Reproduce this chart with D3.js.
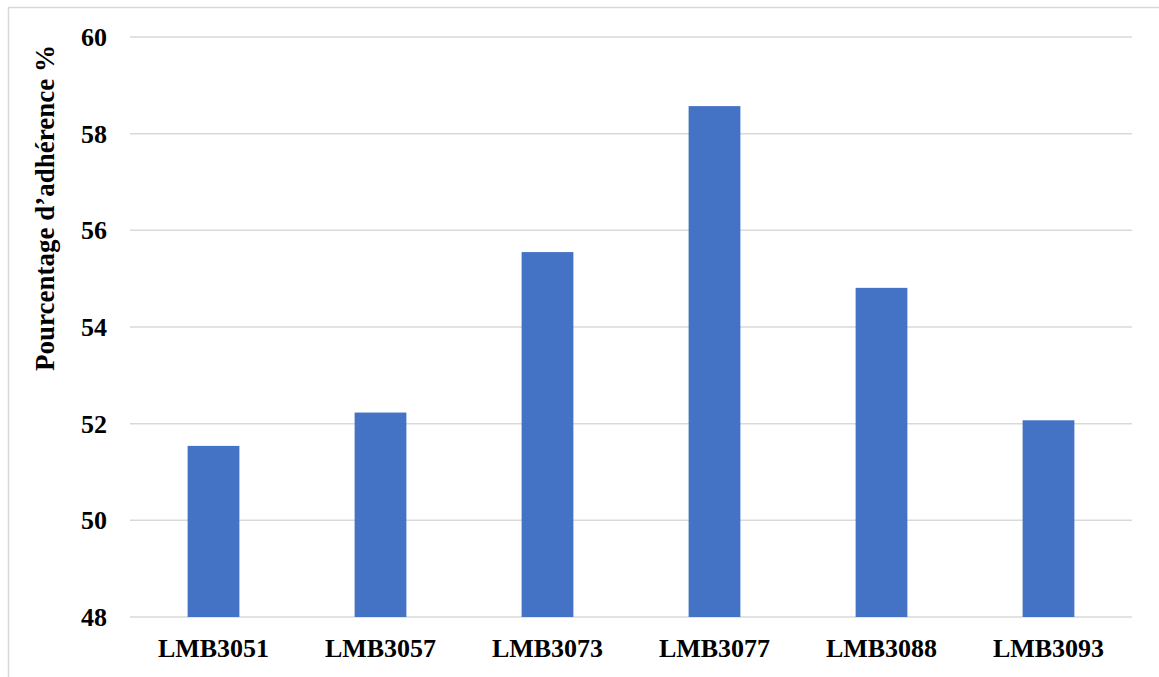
<!DOCTYPE html>
<html><head><meta charset="utf-8">
<script src="https://cdn.jsdelivr.net/npm/d3@7"></script>
<style>body{margin:0;background:#fff}svg{display:block}</style>
</head><body>
<script>
const categories = ["LMB3051","LMB3057","LMB3073","LMB3077","LMB3088","LMB3093"];
const values = [51.54, 52.23, 55.55, 58.57, 54.81, 52.07];
const yTicks = [48, 50, 52, 54, 56, 58, 60];
const yTitle = "Pourcentage d\u2019adhérence %";

const W = 1159, H = 677;
const svg = d3.select("body").append("svg").attr("width", W).attr("height", H);
svg.append("rect").attr("x", 8.5).attr("y", 7.5).attr("width", W + 10).attr("height", H + 10)
  .attr("fill", "#fff").attr("stroke", "#d9d9d9").attr("stroke-width", 1.5);

const mLeft = 130, mRight = 1132, mTop = 37, mBottom = 617;
const x = d3.scaleBand().domain(categories).range([mLeft, mRight]).padding(0);
const y = d3.scaleLinear().domain([48, 60]).range([mBottom, mTop]);
const font = "'Liberation Serif','Times New Roman',serif";

svg.append("g").selectAll("line").data(yTicks).join("line")
  .attr("x1", mLeft).attr("x2", mRight)
  .attr("y1", d => y(d)).attr("y2", d => y(d))
  .attr("stroke", "#d9d9d9").attr("stroke-width", 1.5);

const barW = x.bandwidth() * 0.31;
svg.append("g").selectAll("rect").data(values).join("rect")
  .attr("x", (d, i) => x(categories[i]) + (x.bandwidth() - barW) / 2)
  .attr("width", barW)
  .attr("y", d => y(d))
  .attr("height", d => y(48) - y(d))
  .attr("fill", "#4472c4");

svg.append("g").selectAll("text").data(yTicks).join("text")
  .attr("x", 107).attr("y", d => y(d)).attr("dy", "0.35em")
  .attr("text-anchor", "end")
  .style("font-family", font).style("font-weight", "bold").style("font-size", "26px")
  .text(d => d);

svg.append("g").selectAll("text").data(categories).join("text")
  .attr("x", d => x(d) + x.bandwidth() / 2).attr("y", 648).attr("dy", "0.35em")
  .attr("text-anchor", "middle")
  .style("font-family", font).style("font-weight", "bold").style("font-size", "26px")
  .text(d => d);

svg.append("text")
  .attr("transform", "translate(45,208) rotate(-90)")
  .attr("dy", "0.35em").attr("text-anchor", "middle")
  .style("font-family", font).style("font-weight", "bold").style("font-size", "27px")
  .text(yTitle);
</script>
</body></html>
